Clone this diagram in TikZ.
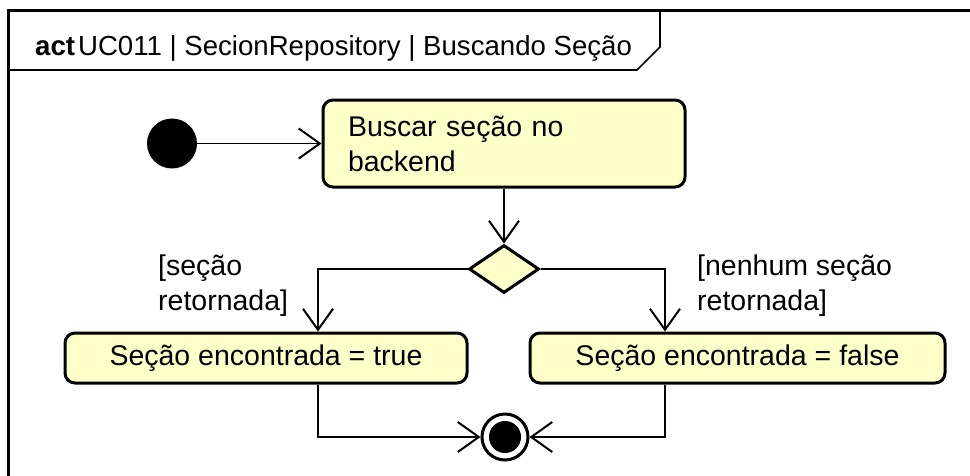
\documentclass[tikz,border=0pt]{standalone}
\usepackage{fontspec}
\setmainfont{Liberation Sans}
\usetikzlibrary{arrows.meta,shapes.geometric}
\definecolor{actfill}{HTML}{FFFFCA}
\tikzset{
  actbox/.style={draw=black, line width=3pt, rounded corners=10pt, fill=actfill, inner sep=0pt},
  conn/.style={line width=1.6pt, -{Straight Barb[length=21pt,width=30pt,line width=2pt]}},
  lbl/.style={align=left, inner sep=0pt, anchor=base west},
}
\begin{document}
\begin{tikzpicture}[x=1pt,y=-1pt, font=\fontsize{28.5}{35}\selectfont]
\useasboundingbox (0,0) rectangle (970,475);
% frame
\draw[line width=3pt] (970,10) -- (8,10) -- (8,476);
\draw[line width=1.6pt] (8,70) -- (637,70) -- (660,47) -- (660,10);
\node[anchor=base west, inner sep=0pt, font=\fontsize{27.6}{34}\selectfont] (title) at (35,55) {\textbf{act}\kern3pt UC011 | SecionRepository | Buscando Seção};
% nodes
\node[circle, fill=black, minimum size=50pt, inner sep=0pt] (init) at (172,143.5) {};
\node[actbox, minimum width=362pt, minimum height=87pt, text width=312pt, align=left] (a1) at (504,143.5) {Buscar seção no\\backend};
\node[diamond, draw=black, line width=3pt, fill=actfill, minimum width=70pt, minimum height=48pt, inner sep=0pt] (dec) at (504,269) {};
\node[actbox, minimum width=402pt, minimum height=50pt] (a2) at (266,358) {Seção encontrada = true};
\node[actbox, minimum width=415pt, minimum height=50pt] (a3) at (737.5,358) {Seção encontrada = false};
\node[circle, draw=black, line width=3pt, minimum size=46pt, inner sep=0pt] (fin) at (505,437) {};
\fill (fin.center) circle (16);
\coordinate (lx) at (318,0);
\coordinate (rx) at (665,0);
% connectors
\draw[conn] (init) -- (a1);
\draw[conn] (a1.south) -- (dec.north);
\draw[conn] (dec.west) -| (a2.north -| lx);
\draw[conn] (dec.east) -| (a3.north -| rx);
\draw[conn] (a2.south -| lx) |- (fin.west);
\draw[conn] (a3.south -| rx) |- (fin.east);
% guards
\node[lbl] (g1) at (158,310) {[seção\\retornada]};
\node[lbl] (g2) at (697,310) {[nenhum seção\\retornada]};
\end{tikzpicture}
\end{document}
